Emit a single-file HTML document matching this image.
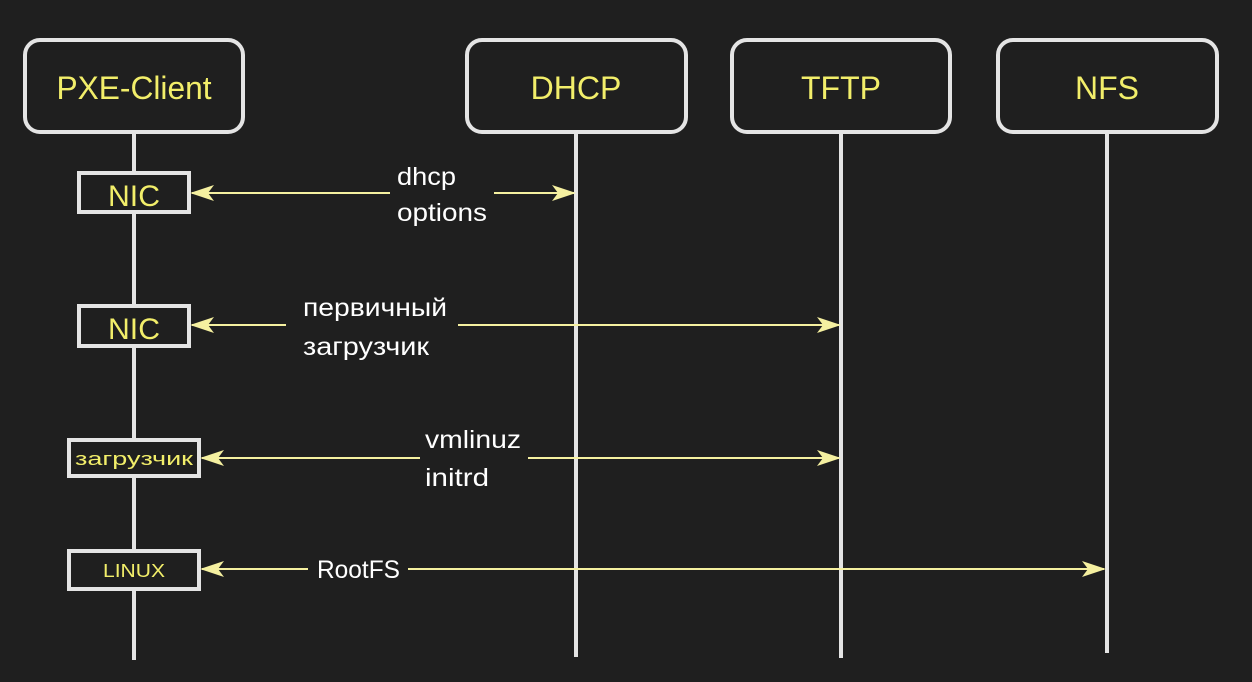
<!DOCTYPE html>
<html><head><meta charset="utf-8"><style>
html,body{margin:0;padding:0;background:#1f1f1f;}
svg{display:block;}
text{font-family:"Liberation Sans","DejaVu Sans",sans-serif;}
</style></head><body>
<svg width="1252" height="682" viewBox="0 0 1252 682" xmlns="http://www.w3.org/2000/svg">
<rect width="1252" height="682" fill="#1f1f1f"/>
<defs>
<marker id="a" markerWidth="24" markerHeight="16" refX="22" refY="8" orient="auto-start-reverse" markerUnits="userSpaceOnUse">
<path d="M0,0 L24,8 L0,16 L6,8 Z" fill="#f5f0a0"/></marker>
</defs>
<g stroke="#e4e4e4" stroke-width="4" fill="none">
<line x1="134" y1="132" x2="134" y2="660"/>
<line x1="576" y1="132" x2="576" y2="657"/>
<line x1="841" y1="132" x2="841" y2="658"/>
<line x1="1107" y1="132" x2="1107" y2="653"/>
<rect x="25" y="40" width="218" height="92" rx="15" fill="#1f1f1f"/>
<rect x="467" y="40" width="219" height="92" rx="15" fill="#1f1f1f"/>
<rect x="732" y="40" width="218" height="92" rx="15" fill="#1f1f1f"/>
<rect x="998" y="40" width="219" height="92" rx="15" fill="#1f1f1f"/>
<rect x="79" y="173" width="110" height="39" fill="#1f1f1f"/>
<rect x="79" y="306" width="110" height="40" fill="#1f1f1f"/>
<rect x="69" y="440" width="130" height="36" fill="#1f1f1f"/>
<rect x="69" y="551" width="130" height="38" fill="#1f1f1f"/>
</g>
<g fill="#f2ee6a" text-anchor="middle">
<text x="134" y="99" font-size="32" textLength="155" lengthAdjust="spacingAndGlyphs">PXE-Client</text>
<text x="576" y="99" font-size="32">DHCP</text>
<text x="841" y="99" font-size="32">TFTP</text>
<text x="1107" y="99" font-size="32">NFS</text>
<text x="134" y="206" font-size="30" textLength="52" lengthAdjust="spacingAndGlyphs">NIC</text>
<text x="134" y="339" font-size="30" textLength="52" lengthAdjust="spacingAndGlyphs">NIC</text>
<text x="134" y="465" font-size="18" textLength="118" lengthAdjust="spacingAndGlyphs">загрузчик</text>
<text x="134" y="577" font-size="18" textLength="62" lengthAdjust="spacingAndGlyphs">LINUX</text>
</g>
<g stroke="#f5f0a0" stroke-width="2" fill="none">
<line x1="192" y1="193" x2="390" y2="193" marker-start="url(#a)"/>
<line x1="494" y1="193" x2="574" y2="193" marker-end="url(#a)"/>
<line x1="192" y1="325" x2="286" y2="325" marker-start="url(#a)"/>
<line x1="458" y1="325" x2="839" y2="325" marker-end="url(#a)"/>
<line x1="202" y1="458" x2="420" y2="458" marker-start="url(#a)"/>
<line x1="528" y1="458" x2="839" y2="458" marker-end="url(#a)"/>
<line x1="202" y1="569" x2="308" y2="569" marker-start="url(#a)"/>
<line x1="408" y1="569" x2="1104" y2="569" marker-end="url(#a)"/>
</g>
<g fill="#ffffff" font-size="25">
<text x="397" y="185" textLength="59" lengthAdjust="spacingAndGlyphs">dhcp</text>
<text x="397" y="221" textLength="90" lengthAdjust="spacingAndGlyphs">options</text>
<text x="303" y="316" textLength="144" lengthAdjust="spacingAndGlyphs">первичный</text>
<text x="303" y="355" textLength="126" lengthAdjust="spacingAndGlyphs">загрузчик</text>
<text x="425" y="448" textLength="96" lengthAdjust="spacingAndGlyphs">vmlinuz</text>
<text x="425" y="486" textLength="64" lengthAdjust="spacingAndGlyphs">initrd</text>
<text x="317" y="578" textLength="83" lengthAdjust="spacingAndGlyphs">RootFS</text>
</g>
</svg>
</body></html>
